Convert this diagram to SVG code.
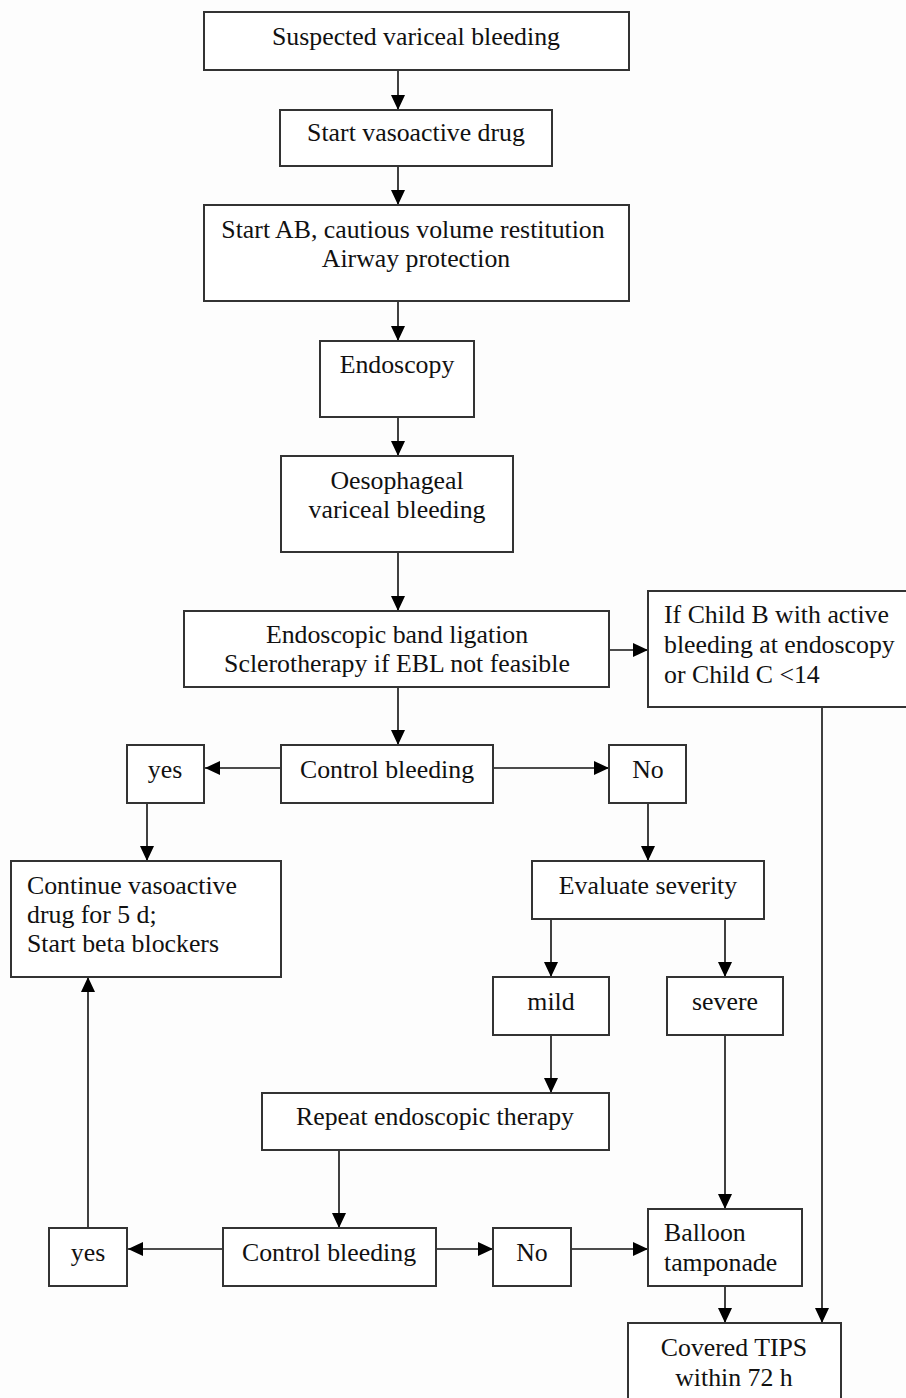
<svg xmlns="http://www.w3.org/2000/svg" width="906" height="1398" viewBox="0 0 906 1398">
<defs>
<marker id="ah" markerUnits="userSpaceOnUse" markerWidth="16" markerHeight="14" refX="15" refY="7" orient="auto">
<path d="M0,0 L15,7 L0,14 z" fill="#000"/>
</marker>
<style>
.b{fill:#fff;stroke:#333;stroke-width:2}
.t{font-family:"Liberation Serif","Times New Roman",serif;font-size:25.8px;fill:#111;text-anchor:middle}
.l{text-anchor:start}
.c{fill:none;stroke:#111;stroke-width:1.6;marker-end:url(#ah)}
</style>
</defs>
<rect width="906" height="1398" fill="#fdfdfd"/>
<g id="connectors">
<line class="c" x1="398" y1="70" x2="398" y2="110"/>
<line class="c" x1="398" y1="166" x2="398" y2="205"/>
<line class="c" x1="398" y1="301" x2="398" y2="341"/>
<line class="c" x1="398" y1="417" x2="398" y2="456"/>
<line class="c" x1="398" y1="552" x2="398" y2="611"/>
<line class="c" x1="609" y1="650" x2="648" y2="650"/>
<line class="c" x1="822" y1="707" x2="822" y2="1323"/>
<line class="c" x1="398" y1="687" x2="398" y2="745"/>
<line class="c" x1="281" y1="768" x2="205" y2="768"/>
<line class="c" x1="493" y1="768" x2="609" y2="768"/>
<line class="c" x1="147" y1="803" x2="147" y2="861"/>
<line class="c" x1="648" y1="803" x2="648" y2="861"/>
<line class="c" x1="551" y1="919" x2="551" y2="977"/>
<line class="c" x1="725" y1="919" x2="725" y2="977"/>
<line class="c" x1="551" y1="1035" x2="551" y2="1093"/>
<line class="c" x1="725" y1="1035" x2="725" y2="1209"/>
<line class="c" x1="339" y1="1150" x2="339" y2="1228"/>
<line class="c" x1="223" y1="1249" x2="128" y2="1249"/>
<line class="c" x1="88" y1="1228" x2="88" y2="977"/>
<line class="c" x1="436" y1="1249" x2="493" y2="1249"/>
<line class="c" x1="571" y1="1249" x2="648" y2="1249"/>
<line class="c" x1="725" y1="1286" x2="725" y2="1323"/>
</g>
<g id="n1"><rect class="b" x="204" y="12" width="425" height="58"/><text class="t" x="416" y="45">Suspected variceal bleeding</text></g>
<g id="n2"><rect class="b" x="280" y="110" width="272" height="56"/><text class="t" x="416" y="141">Start vasoactive drug</text></g>
<g id="n3"><rect class="b" x="204" y="205" width="425" height="96"/><text class="t" x="413" y="238">Start AB, cautious volume restitution</text><text class="t" x="416" y="267">Airway protection</text></g>
<g id="n4"><rect class="b" x="320" y="341" width="154" height="76"/><text class="t" x="397" y="373">Endoscopy</text></g>
<g id="n5"><rect class="b" x="281" y="456" width="232" height="96"/><text class="t" x="397" y="489">Oesophageal</text><text class="t" x="397" y="518">variceal bleeding</text></g>
<g id="n6"><rect class="b" x="184" y="611" width="425" height="76"/><text class="t" x="397" y="643">Endoscopic band ligation</text><text class="t" x="397" y="672">Sclerotherapy if EBL not feasible</text></g>
<g id="n7"><rect class="b" x="648" y="591" width="262" height="116"/><text class="t l" x="664" y="623">If Child B with active</text><text class="t l" x="664" y="653">bleeding at endoscopy</text><text class="t l" x="664" y="683">or Child C &lt;14</text></g>
<g id="n8"><rect class="b" x="281" y="745" width="212" height="58"/><text class="t" x="387" y="778">Control bleeding</text></g>
<g id="n9"><rect class="b" x="127" y="745" width="77" height="58"/><text class="t" x="165" y="778">yes</text></g>
<g id="n10"><rect class="b" x="609" y="745" width="77" height="58"/><text class="t" x="648" y="778">No</text></g>
<g id="n11"><rect class="b" x="11" y="861" width="270" height="116"/><text class="t l" x="27" y="894">Continue vasoactive</text><text class="t l" x="27" y="923">drug for 5 d;</text><text class="t l" x="27" y="952">Start beta blockers</text></g>
<g id="n12"><rect class="b" x="532" y="861" width="232" height="58"/><text class="t" x="648" y="894">Evaluate severity</text></g>
<g id="n13"><rect class="b" x="493" y="977" width="116" height="58"/><text class="t" x="551" y="1010">mild</text></g>
<g id="n14"><rect class="b" x="667" y="977" width="116" height="58"/><text class="t" x="725" y="1010">severe</text></g>
<g id="n15"><rect class="b" x="262" y="1093" width="347" height="57"/><text class="t" x="435" y="1125">Repeat endoscopic therapy</text></g>
<g id="n16"><rect class="b" x="223" y="1228" width="213" height="58"/><text class="t" x="329" y="1261">Control bleeding</text></g>
<g id="n17"><rect class="b" x="49" y="1228" width="78" height="58"/><text class="t" x="88" y="1261">yes</text></g>
<g id="n18"><rect class="b" x="493" y="1228" width="78" height="58"/><text class="t" x="532" y="1261">No</text></g>
<g id="n19"><rect class="b" x="648" y="1209" width="154" height="77"/><text class="t l" x="664" y="1241">Balloon</text><text class="t l" x="664" y="1271">tamponade</text></g>
<g id="n20"><rect class="b" x="628" y="1323" width="213" height="80"/><text class="t" x="734" y="1356">Covered TIPS</text><text class="t" x="734" y="1386">within 72 h</text></g>
</svg>
